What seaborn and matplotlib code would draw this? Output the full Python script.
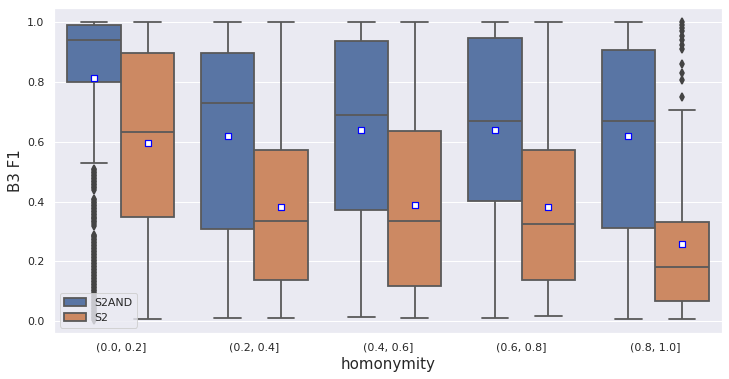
import numpy as np
import pandas as pd
import matplotlib
matplotlib.use("Agg")
import matplotlib.pyplot as plt
import seaborn as sns

# ---- data ----
categories = ["(0.0, 0.2]", "(0.2, 0.4]", "(0.4, 0.6]", "(0.6, 0.8]", "(0.8, 1.0]"]
series = ["S2AND", "S2"]

s2and_lo = [0.53, 0.01, 0.013, 0.01, 0.008]
s2and_q1 = [0.80, 0.307, 0.371, 0.401, 0.312]
s2and_med = [0.94, 0.729, 0.689, 0.669, 0.669]
s2and_q3 = [0.99, 0.898, 0.937, 0.946, 0.909]
s2and_hi = [1.0, 1.0, 1.0, 1.0, 1.0]
s2and_mean = [0.815, 0.618, 0.638, 0.638, 0.620]

s2_lo = [0.008, 0.01, 0.01, 0.017, 0.008]
s2_q1 = [0.347, 0.137, 0.117, 0.137, 0.068]
s2_med = [0.632, 0.335, 0.335, 0.325, 0.182]
s2_q3 = [0.897, 0.571, 0.635, 0.571, 0.333]
s2_hi = [1.0, 1.0, 1.0, 1.0, 0.706]
s2_mean = [0.596, 0.383, 0.387, 0.383, 0.257]

# outliers (dense band in the first S2AND box, sparse ones in the last S2 box)
s2and_fliers_g1 = [
    0.005, 0.01, 0.015, 0.02, 0.025, 0.03, 0.035, 0.04, 0.045, 0.05,
    0.055, 0.06, 0.065, 0.07, 0.075, 0.08, 0.085, 0.09, 0.095, 0.10,
    0.105, 0.11, 0.115, 0.12, 0.125, 0.13, 0.135, 0.14, 0.145, 0.15,
    0.155, 0.16, 0.165, 0.17, 0.175, 0.18, 0.185, 0.19, 0.195, 0.20,
    0.205, 0.21, 0.215, 0.22, 0.225, 0.23, 0.235, 0.24, 0.245, 0.25,
    0.255, 0.26, 0.265, 0.27, 0.275, 0.28, 0.285, 0.289,
    0.319, 0.325, 0.33, 0.335, 0.34, 0.345, 0.35, 0.355, 0.36, 0.365,
    0.37, 0.375, 0.38, 0.385, 0.39, 0.395, 0.40, 0.405, 0.41,
    0.438, 0.445, 0.45, 0.455, 0.46, 0.465, 0.47, 0.475, 0.48, 0.485,
    0.49, 0.495, 0.50, 0.505, 0.51,
]
s2_fliers_g5 = [1.0, 0.99, 0.98, 0.97, 0.955, 0.94, 0.925, 0.91, 0.86, 0.83, 0.807, 0.75]

# ---- build a long table whose box statistics equal the values above ----
K = 400  # weight of each summary value (keeps quartiles fixed despite outliers)
rows = []
stats = {
    "S2AND": (s2and_lo, s2and_q1, s2and_med, s2and_q3, s2and_hi),
    "S2": (s2_lo, s2_q1, s2_med, s2_q3, s2_hi),
}
fliers = {("S2AND", 0): s2and_fliers_g1, ("S2", 4): s2_fliers_g5}
for s in series:
    lo, q1, med, q3, hi = stats[s]
    for i, c in enumerate(categories):
        vals = list(np.repeat([lo[i], q1[i], med[i], q3[i], hi[i]], K))
        vals += fliers.get((s, i), [])
        rows += [(c, s, v) for v in vals]
df = pd.DataFrame(rows, columns=["homonymity", "model", "B3 F1"])

means_df = pd.DataFrame(
    [(c, "S2AND", m) for c, m in zip(categories, s2and_mean)]
    + [(c, "S2", m) for c, m in zip(categories, s2_mean)],
    columns=["homonymity", "model", "B3 F1"],
)

# ---- plot ----
sns.set_theme(style="darkgrid")
fig = plt.figure(figsize=(729 / 72, 379 / 72), dpi=72)
ax = fig.add_axes([54 / 729, 1 - 333 / 379, (722 - 54) / 729, (333 - 8) / 379])

sns.boxplot(
    data=df, x="homonymity", y="B3 F1", hue="model",
    order=categories, hue_order=series,
    palette=["#4C72B0", "#DD8452"], saturation=0.75,
    width=0.8, linewidth=1.8, linecolor="#595959",
    whis=1.5,
    flierprops=dict(marker="d", markersize=5.5, markerfacecolor="#444444",
                    markeredgecolor="#444444", markeredgewidth=1.6),
    ax=ax,
)
sns.stripplot(
    data=means_df, x="homonymity", y="B3 F1", hue="model",
    order=categories, hue_order=series, dodge=True, jitter=False,
    marker="s", size=6, palette=["white", "white"], edgecolor="blue",
    linewidth=1.2, legend=False, zorder=10, ax=ax,
)

ax.set_ylim(-0.04, 1.048)
ax.set_xlim(-0.5, 4.5)
ax.set_xlabel("homonymity", fontsize=15)
ax.set_ylabel("B3 F1", fontsize=15)
ax.tick_params(axis="both", labelsize=11)
sns.move_legend(ax, "lower left", title=None, fontsize=11)

fig.savefig("out.png", dpi=72)
